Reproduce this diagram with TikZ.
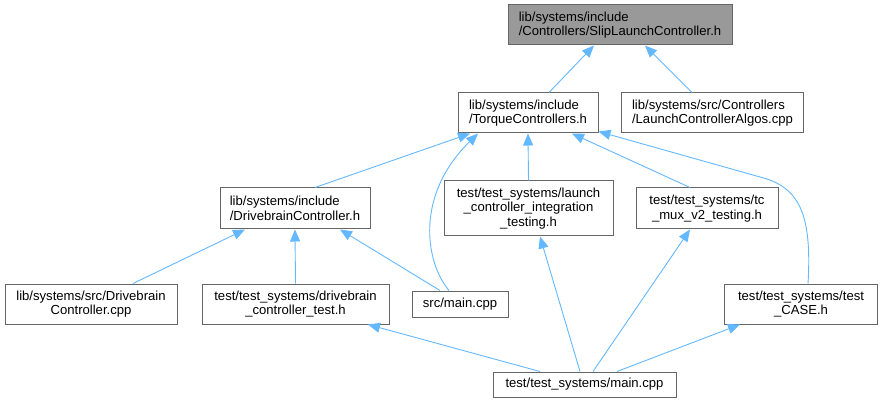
\documentclass[tikz,border=0pt]{standalone}
\usepackage{fontspec}
\setmainfont{Liberation Sans}
\usetikzlibrary{arrows.meta}
\definecolor{edgeblue}{HTML}{63B8FF}
\definecolor{boxborder}{HTML}{666666}
\definecolor{topfill}{HTML}{999999}
\tikzset{
  box/.style={draw=boxborder, line width=1pt, fill=white, inner sep=0pt, align=center,
    font=\fontsize{13.1}{14.5}\selectfont, text=black},
  leftbox/.style={box, align=left},
  edge/.style={draw=edgeblue, line width=0.9pt, -{Triangle[length=12pt,width=10pt]}}
}
\begin{document}
\begin{tikzpicture}[x=1pt,y=-1pt]
\useasboundingbox (0,0) rectangle (883,403);
\node[leftbox, fill=topfill, minimum width=224pt, minimum height=40pt] (slip) at (620,25) {lib/systems/include\\/Controllers/SlipLaunchController.h};
\node[leftbox, minimum width=140pt, minimum height=40pt] (torque) at (528,113) {lib/systems/include\\/TorqueControllers.h};
\node[leftbox, minimum width=182pt, minimum height=40pt] (algos) at (712.5,113) {lib/systems/src/Controllers\\/LaunchControllerAlgos.cpp};
\node[leftbox, minimum width=150pt, minimum height=41pt] (dbc) at (295,208.5) {lib/systems/include\\/DrivebrainController.h};
\node[box, minimum width=169pt, minimum height=55pt] (launch) at (528.5,208.5) {test/test\_systems/launch\\\_controller\_integration\\\_testing.h};
\node[box, minimum width=142pt, minimum height=41pt] (tcmux) at (707,208.5) {test/test\_systems/tc\\\_mux\_v2\_testing.h};
\node[box, minimum width=172pt, minimum height=40pt] (dbcpp) at (91,304) {lib/systems/src/Drivebrain\\Controller.cpp};
\node[box, minimum width=187pt, minimum height=40pt] (dbtest) at (295.5,304) {test/test\_systems/drivebrain\\\_controller\_test.h};
\node[box, minimum width=96pt, minimum height=26pt] (srcmain) at (460,304) {src/main.cpp};
\node[box, minimum width=153pt, minimum height=40pt] (testcase) at (801,304) {test/test\_systems/test\\\_CASE.h};
\node[box, minimum width=183pt, minimum height=25pt] (testmain) at (584.5,384.5) {test/test\_systems/main.cpp};
% edges
\draw[edge] ([xshift=21pt]torque.north) -- ([xshift=-26pt]slip.south);
\draw[edge] ([xshift=-20.5pt]algos.north) -- ([xshift=25pt]slip.south);
\draw[edge] ([xshift=20pt]dbc.north) -- ([xshift=-58pt]torque.south);
\draw[edge] (launch.north) -- (torque.south);
\draw[edge] ([xshift=-17pt]tcmux.north) -- ([xshift=44pt]torque.south);
\draw[edge] ([xshift=-11pt]srcmain.north) .. controls (425,262) and (415,195) .. ([xshift=-50pt]torque.south);
\coordinate (tcbend) at (760,177);
\draw[edge] ([xshift=7pt]testcase.north) .. controls (812,215) and (800,187) .. (tcbend) -- ([yshift=2pt]torque.south east);
\draw[edge] ([xshift=42pt]dbcpp.north) -- ([xshift=-50pt]dbc.south);
\draw[edge] (dbtest.north) -- (dbc.south);
\draw[edge] ([xshift=-20pt]srcmain.north) -- ([xshift=45pt]dbc.south);
\draw[edge] ([xshift=-44.5pt]testmain.north) -- ([xshift=72.5pt]dbtest.south);
\draw[edge] ([xshift=-4.5pt]testmain.north) -- ([xshift=11.5pt]launch.south);
\draw[edge] ([xshift=8.5pt]testmain.north) -- ([xshift=-17pt]tcmux.south);
\draw[edge] ([xshift=32.5pt]testmain.north) -- ([xshift=-61pt]testcase.south);
\end{tikzpicture}
\end{document}
